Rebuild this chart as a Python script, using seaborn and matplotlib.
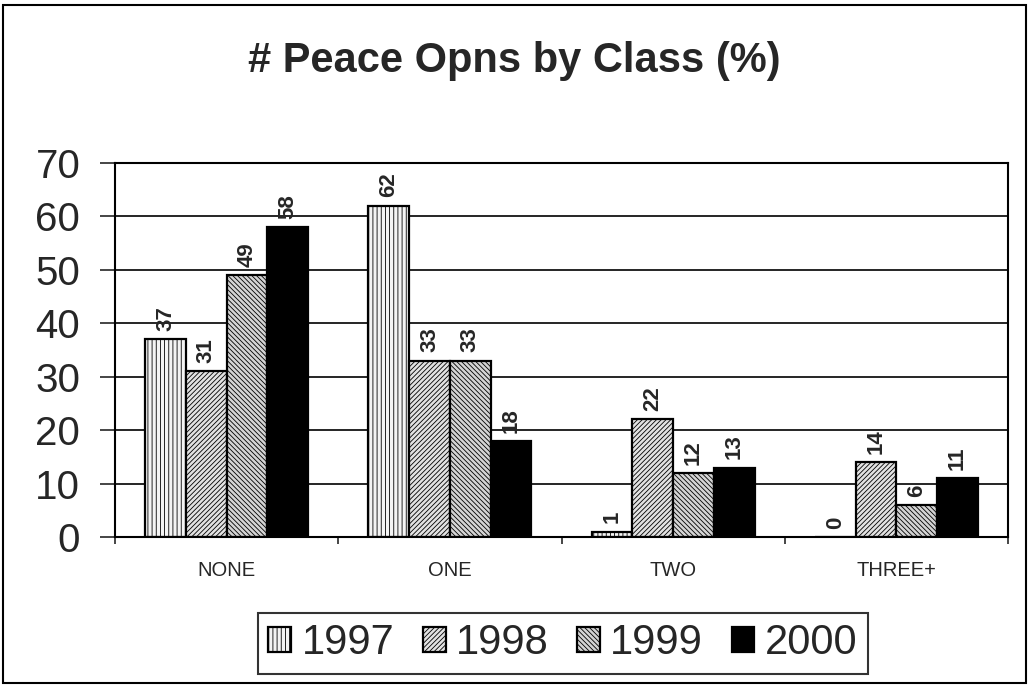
import pandas as pd
import matplotlib.pyplot as plt
import seaborn as sns
from matplotlib import font_manager
from matplotlib.patches import Rectangle

categories = ["NONE", "ONE", "TWO", "THREE+"]
years = ["1997", "1998", "1999", "2000"]
v1997 = [37, 62, 1, 0]
v1998 = [31, 33, 22, 14]
v1999 = [49, 33, 12, 6]
v2000 = [58, 18, 13, 11]

face_colors = ["#f4f4f4", "#e2e2e2", "#d4d4d4", "#000000"]
hatches = ["||||", "///////", "\\\\\\\\\\\\\\", ""]

sns.set_style("white")
plt.rcParams["font.family"] = ["Liberation Sans", "DejaVu Sans"]
plt.rcParams["hatch.linewidth"] = 0.6
plt.rcParams["hatch.color"] = "black"

names = {f.name for f in font_manager.fontManager.ttflist}
narrow = "Liberation Sans Narrow" if "Liberation Sans Narrow" in names else "Liberation Sans"

df = pd.DataFrame({
    "class": categories * 4,
    "year": [y for y in years for _ in categories],
    "pct": v1997 + v1998 + v1999 + v2000,
})

fig = plt.figure(figsize=(10.29, 6.85), dpi=100)
ax = fig.add_axes([0.1118, 0.216, 0.8678, 0.546])

sns.barplot(data=df, x="class", y="pct", hue="year", palette=face_colors,
            width=0.73, gap=0, saturation=1, edgecolor="black", linewidth=1.6,
            legend=False, ax=ax)

for cont, h in zip(ax.containers, hatches):
    for bar in cont.patches:
        bar.set_hatch(h)
    ax.bar_label(cont, fmt="%d", rotation=90, padding=6, fontsize=16,
                 fontweight="bold")

ax.set_ylim(0, 70)
ax.set_xlim(-0.5, 3.5)
ax.set_yticks(range(0, 71, 10))
ax.yaxis.grid(True, color="black", linewidth=1.2)
ax.set_axisbelow(True)
ax.set_xlabel("")
ax.set_ylabel("")

for s in ax.spines.values():
    s.set_color("black")
    s.set_linewidth(1.5)

ax.tick_params(axis="y", which="major", direction="out", length=11, width=1.2,
               pad=14, labelsize=29, left=True)
ax.tick_params(axis="x", which="major", length=0, pad=17)
ax.set_xticks([-0.5, 0.5, 1.5, 2.5, 3.5], minor=True)
ax.tick_params(axis="x", which="minor", direction="out", length=5, width=1.2,
               bottom=True)
for lab in ax.get_xticklabels():
    lab.set_fontfamily(narrow)
    lab.set_fontsize(14.5)

fig.text(0.5, 0.895, "# Peace Opns by Class (%)", ha="center", va="baseline",
         fontsize=30, fontweight="bold")

handles = [c.patches[0] for c in ax.containers]
leg = fig.legend(handles, years, loc="center", bbox_to_anchor=(0.547, 0.061),
                 ncol=4, fontsize=30, frameon=True, fancybox=False,
                 edgecolor="black", handlelength=0.55, handleheight=0.55,
                 handletextpad=0.25, columnspacing=0.68, borderpad=0.25)
leg.get_frame().set_linewidth(1.5)

fig.patches.append(Rectangle((0.003, 0.003), 0.994, 0.99, transform=fig.transFigure,
                             fill=False, edgecolor="black", linewidth=1.5))

fig.savefig("out.png", dpi=100)
